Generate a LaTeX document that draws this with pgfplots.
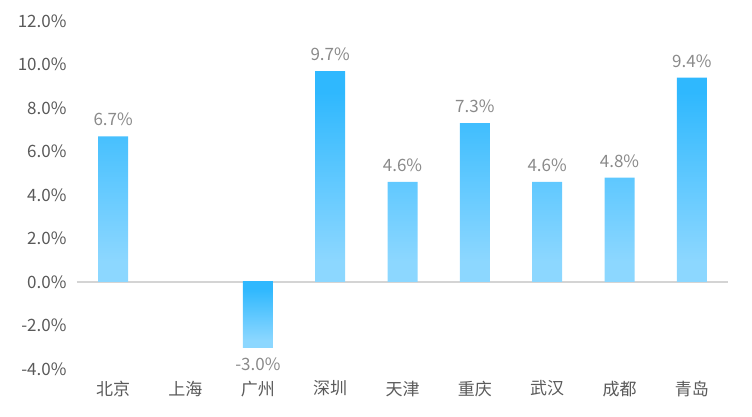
\documentclass[border=0pt]{standalone}
\usepackage{pgfplots}
\pgfplotsset{compat=1.18}
\usepackage{fontspec}
\setmainfont{Noto Sans CJK SC}
\definecolor{bartop}{HTML}{2FB8FE}
\definecolor{barbot}{HTML}{8CD7FF}
\definecolor{ticktext}{HTML}{5A5A5A}
\definecolor{valtext}{HTML}{8A8A8A}
\pgfdeclareverticalshading{barshade}{100bp}{color(0bp)=(barbot); color(30bp)=(barbot); color(70bp)=(bartop); color(100bp)=(bartop)}
\begin{document}
\begin{tikzpicture}
\path[use as bounding box] (0,0) rectangle (752pt,417pt);
\begin{axis}[
  at={(77pt,48pt)}, anchor=south west,
  scale only axis, width=651pt, height=348pt,
  ybar, bar width=30pt,
  xmin=-0.5, xmax=8.5,
  ymin=-4, ymax=12,
  ytick={-4,-2,...,12},
  xtick={0,...,8},
  xticklabels={北京,上海,广州,深圳,天津,重庆,武汉,成都,青岛},
  /pgf/number format/assume math mode=true,
  yticklabel={\pgfmathprintnumber[fixed,fixed zerofill,precision=1]{\tick}\%},
  ticklabel style={font=\fontsize{17}{19}\selectfont, text=ticktext},
  yticklabel style={xshift=-7pt},
  xticklabel style={yshift=-4pt},
  axis line style={draw=none},
  tick style={draw=none},
  extra y ticks={0}, extra y tick labels={},
  extra y tick style={grid=major, major grid style={color=black!17, line width=1.2pt}},
  clip=false,
  nodes near coords={\pgfmathprintnumber[fixed,fixed zerofill,precision=1]{\pgfplotspointmeta}\%},
  nodes near coords style={font=\fontsize{17}{19}\selectfont, text=valtext, inner sep=10pt},
]
\addplot[draw=none, bar shift=0pt, shading=barshade]
coordinates {(0,6.7)(3,9.7)(4,4.6)(5,7.3)(6,4.6)(7,4.8)(8,9.4)};
\addplot[draw=none, bar shift=0pt, shading=barshade]
coordinates {(2,-3.0)};
\end{axis}
\end{tikzpicture}
\end{document}
